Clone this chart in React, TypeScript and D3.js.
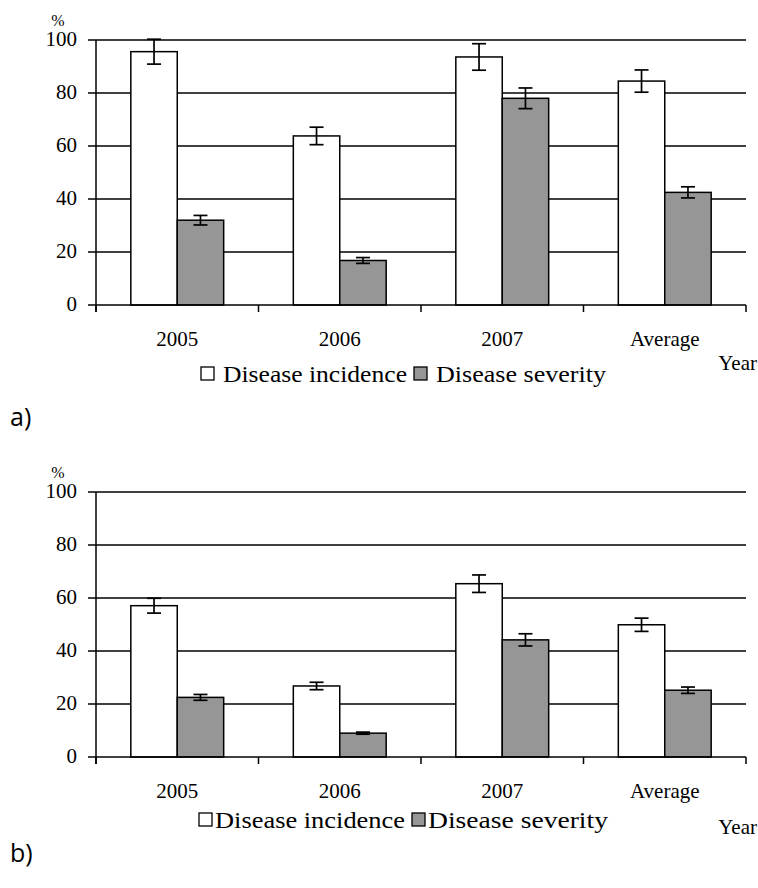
import * as d3 from 'd3';

const categories = ['2005', '2006', '2007', 'Average'];
const seriesNames = ['Disease incidence', 'Disease severity'];
const yTicks = [0, 20, 40, 60, 80, 100];

// panel a)
const incidenceA = [95.6, 63.8, 93.6, 84.5];
const incidenceErrA = [4.7, 3.3, 5.0, 4.2];
const severityA = [32.0, 16.8, 78.0, 42.5];
const severityErrA = [1.8, 1.1, 3.9, 2.1];

// panel b)
const incidenceB = [57.1, 26.8, 65.4, 49.9];
const incidenceErrB = [2.8, 1.4, 3.3, 2.5];
const severityB = [22.5, 9.0, 44.2, 25.2];
const severityErrB = [1.1, 0.4, 2.3, 1.2];

const FONT = 'Liberation Serif, Times New Roman, serif';
const FILLS = ['#ffffff', '#969696'];

interface LegendLayout {
  x: number;
  dy: number;
  gap: number;
  widths: number[];
  yearDy: number;
  labelDy: number;
}

interface PanelProps {
  top: number;
  label: string;
  values: number[][];
  errors: number[][];
  legend: LegendLayout;
}

function Panel({ top, label, values, errors, legend }: PanelProps) {
  const left = 96;
  const right = 746;
  const y0 = top + 265;

  const xScale = d3.scaleBand<string>().domain(categories).range([left, right]).padding(0);
  const groupScale = d3
    .scaleBand<string>()
    .domain(seriesNames)
    .range([0, xScale.bandwidth()])
    .paddingInner(0)
    .paddingOuter(0.75);
  const yScale = d3.scaleLinear().domain([0, 100]).range([y0, top]);

  const boundaries = categories.map((c) => xScale(c)!).concat([right]);
  const capHalf = 7;
  const box = 13;

  // legend item positions
  let cursor = legend.x;
  const items = seriesNames.map((s, i) => {
    const bx = cursor;
    const tx = bx + box + legend.gap;
    cursor = tx + legend.widths[i] + 7;
    return { s, i, bx, tx };
  });

  return (
    <g>
      {/* gridlines */}
      {yTicks.slice(1).map((t) => (
        <line key={t} x1={left} x2={right} y1={yScale(t)} y2={yScale(t)} stroke="#000" strokeWidth={1.5} />
      ))}
      {/* y axis */}
      <line x1={left} x2={left} y1={top} y2={y0 + 7} stroke="#000" strokeWidth={1.5} />
      {yTicks.map((t) => (
        <g key={t}>
          <line x1={left - 8} x2={left} y1={yScale(t)} y2={yScale(t)} stroke="#000" strokeWidth={1.5} />
          <text x={left - 19} y={yScale(t)} dy="0.3em" textAnchor="end" fontSize={21}>
            {t}
          </text>
        </g>
      ))}
      <text x={58} y={top - 14} textAnchor="middle" fontSize={16}>
        %
      </text>
      {/* bars */}
      {categories.map((c, ci) =>
        seriesNames.map((s, si) => {
          const v = values[si][ci];
          const e = errors[si][ci];
          const x = xScale(c)! + groupScale(s)!;
          const w = groupScale.bandwidth();
          const cx = x + w / 2;
          return (
            <g key={c + s}>
              <rect
                x={x}
                y={yScale(v)}
                width={w}
                height={y0 - yScale(v)}
                fill={FILLS[si]}
                stroke="#000"
                strokeWidth={1.5}
              />
              <line x1={cx} x2={cx} y1={yScale(v + e)} y2={yScale(v - e)} stroke="#000" strokeWidth={1.7} />
              <line x1={cx - capHalf} x2={cx + capHalf} y1={yScale(v + e)} y2={yScale(v + e)} stroke="#000" strokeWidth={1.7} />
              <line x1={cx - capHalf} x2={cx + capHalf} y1={yScale(v - e)} y2={yScale(v - e)} stroke="#000" strokeWidth={1.7} />
            </g>
          );
        })
      )}
      {/* x axis */}
      <line x1={left} x2={right} y1={y0} y2={y0} stroke="#000" strokeWidth={1.5} />
      {boundaries.map((b, i) => (
        <line key={i} x1={b} x2={b} y1={y0} y2={y0 + 7} stroke="#000" strokeWidth={1.5} />
      ))}
      {categories.map((c) => (
        <text
          key={c}
          x={xScale(c)! + xScale.bandwidth() / 2}
          y={y0 + 34}
          dy="0.35em"
          textAnchor="middle"
          fontSize={21}
        >
          {c}
        </text>
      ))}
      {/* legend */}
      {items.map(({ s, i, bx, tx }) => (
        <g key={s}>
          <rect
            x={bx}
            y={y0 + legend.dy - 15}
            width={box}
            height={box}
            fill={FILLS[i]}
            stroke="#000"
            strokeWidth={1.3}
          />
          <text
            x={tx}
            y={y0 + legend.dy}
            fontSize={23}
            textLength={legend.widths[i]}
            lengthAdjust="spacingAndGlyphs"
          >
            {s}
          </text>
        </g>
      ))}
      <text x={757} y={y0 + legend.yearDy} textAnchor="end" fontSize={21}>
        Year
      </text>
      <text
        x={10}
        y={y0 + legend.labelDy}
        fontFamily="Open Sans, Noto Sans, sans-serif"
        fontSize={25}
      >
        {label}
      </text>
    </g>
  );
}

export default function App() {
  return (
    <svg
      width={758}
      height={888}
      fontFamily={FONT}
      style={{ position: 'absolute', left: 0, top: 0, background: '#fff' }}
    >
      <rect width={758} height={888} fill="#fff" />
      <Panel
        top={40}
        label="a)"
        values={[incidenceA, severityA]}
        errors={[incidenceErrA, severityErrA]}
        legend={{ x: 201, dy: 77, gap: 9, widths: [184, 170], yearDy: 65, labelDy: 121 }}
      />
      <Panel
        top={492}
        label="b)"
        values={[incidenceB, severityB]}
        errors={[incidenceErrB, severityErrB]}
        legend={{ x: 199, dy: 71, gap: 3, widths: [190, 180], yearDy: 77, labelDy: 105 }}
      />
    </svg>
  );
}
